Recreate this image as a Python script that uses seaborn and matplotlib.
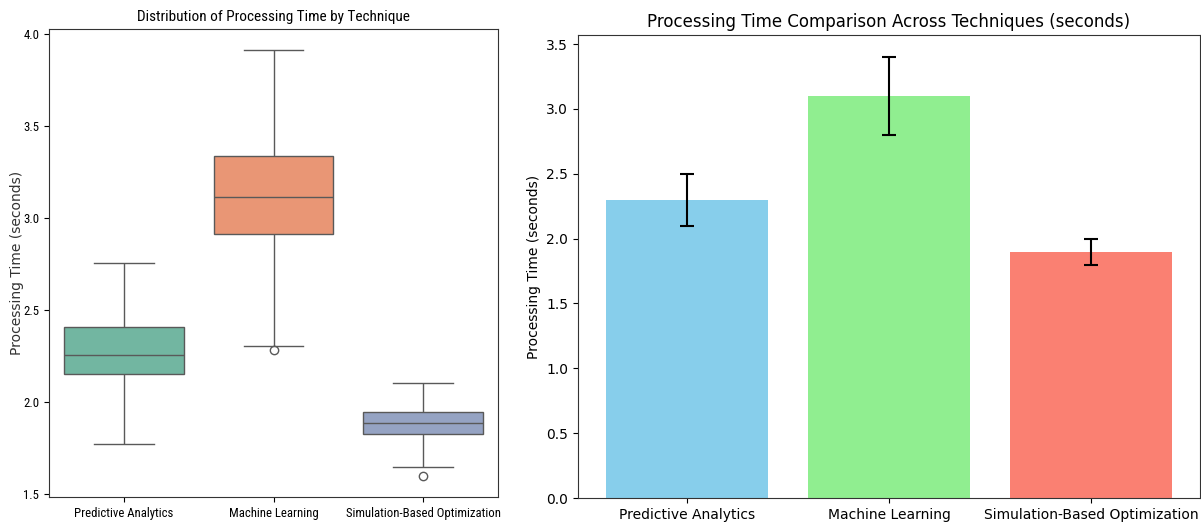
import matplotlib
matplotlib.use("Agg")
import matplotlib.pyplot as plt
from matplotlib import font_manager as fm
import seaborn as sns
import pandas as pd

# ---------------- data ----------------
techniques = ["Predictive Analytics", "Machine Learning", "Simulation-Based Optimization"]

# values (whisker ends, quartiles, median, outliers)
predictive_times = [1.77, 2.05, 2.15, 2.20, 2.255, 2.32, 2.405, 2.55, 2.755]
ml_times = [2.28, 2.305, 2.915, 3.00, 3.115, 3.22, 3.335, 3.60, 3.91]
simulation_times = [1.60, 1.648, 1.825, 1.86, 1.884, 1.91, 1.945, 2.00, 2.105]

mean_times = [2.3, 3.1, 1.9]
time_errors = [0.2, 0.3, 0.1]
bar_colors = ["skyblue", "lightgreen", "salmon"]

# ---------------- fonts ----------------
plt.rcParams["font.family"] = ["DejaVu Sans"]

cond_path = None
prefs = ["Open Sans", "Noto Sans", "Roboto", "Liberation Sans Narrow", "DejaVu Sans"]
cands = []
for f in fm.fontManager.ttflist:
    st = str(f.stretch).lower()
    if (("condensed" in st or "narrow" in st or "Narrow" in f.name or "Condensed" in f.name)
            and f.style == "normal" and f.weight in (400, "normal", "regular")
            and "extra" not in st and "ultra" not in st):
        cands.append(f)
for p in prefs:
    for f in cands:
        if f.name == p or f.name.startswith(p):
            cond_path = f.fname
            break
    if cond_path:
        break
if cond_path is None and cands:
    cond_path = cands[0].fname

if cond_path:
    def cfont(size):
        return fm.FontProperties(fname=cond_path, size=size)
    left_title_size, left_tick_size = 11, 9.2
else:
    def cfont(size):
        return fm.FontProperties(family="DejaVu Sans", size=size)
    left_title_size, left_tick_size = 9.0, 7.0

# ---------------- figure ----------------
W, H = 1201, 524
fig = plt.figure(figsize=(W / 100, H / 100), dpi=100)
ax1 = fig.add_axes([49 / W, 1 - 497 / H, 449 / W, 468 / H])
ax2 = fig.add_axes([578 / W, 1 - 498 / H, 622 / W, 463 / H])

# left: box plot
box_df = pd.DataFrame({
    "Technique": [techniques[0]] * len(predictive_times)
    + [techniques[1]] * len(ml_times)
    + [techniques[2]] * len(simulation_times),
    "Processing Time": predictive_times + ml_times + simulation_times,
})
sns.boxplot(data=box_df, x="Technique", y="Processing Time", hue="Technique",
            palette="Set2", order=techniques, hue_order=techniques,
            legend=False, ax=ax1)
ax1.set_title("Distribution of Processing Time by Technique",
              fontproperties=cfont(left_title_size))
ax1.set_xlabel("")
ax1.set_ylabel("Processing Time (seconds)", fontsize=10, color="#333333")
ax1.yaxis.set_label_coords(-0.056, 0.5)
ax1.set_xticks(range(len(techniques)))
ax1.set_xticklabels(techniques)
for lab in ax1.get_xticklabels() + ax1.get_yticklabels():
    lab.set_fontproperties(cfont(left_tick_size))

# right: bar chart with error bars
bar_df = pd.DataFrame({"Technique": techniques, "Mean": mean_times})
sns.barplot(data=bar_df, x="Technique", y="Mean", hue="Technique",
            palette=bar_colors, order=techniques, hue_order=techniques,
            saturation=1, errorbar=None, width=0.8, legend=False, ax=ax2)
ax2.errorbar(range(len(techniques)), mean_times, yerr=time_errors,
             fmt="none", ecolor="black", capsize=5, elinewidth=1.5,
             capthick=1.5)
ax2.set_xlim(-0.54, 2.54)
ax2.set_ylim(0, 3.57)
ax2.set_title("Processing Time Comparison Across Techniques (seconds)", fontsize=12)
ax2.set_xlabel("")
ax2.set_ylabel("Processing Time (seconds)", fontsize=10)
ax2.tick_params(labelsize=10)

for ax in (ax1, ax2):
    for s in ax.spines.values():
        s.set_color("#333333")

fig.savefig("out.png", dpi=100)
